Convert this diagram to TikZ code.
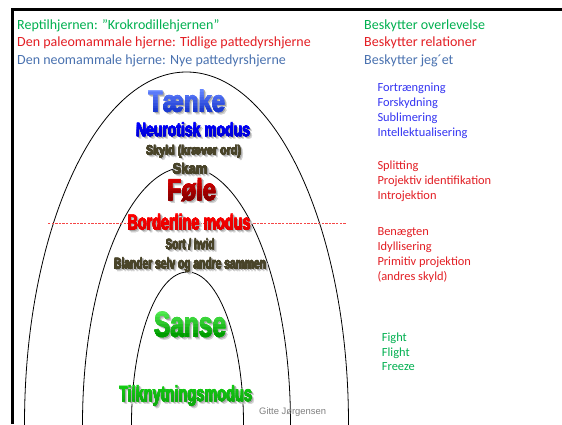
\documentclass[tikz,border=0pt]{standalone}
\usepackage{fontspec}
\usepackage{graphicx}
\setmainfont{Carlito}
\newfontfamily\heavyfont{Liberation Sans}[BoldFeatures={FakeBold=2.2}]
\newfontfamily\signfont{Liberation Sans}

\definecolor{reptgreen}{HTML}{00B050}
\definecolor{paleored}{HTML}{E31E24}
\definecolor{neoblue}{HTML}{4A72B0}
\definecolor{listblue}{HTML}{3434F2}
\definecolor{olive}{HTML}{494429}
\definecolor{thinkTop}{HTML}{6485FF}
\definecolor{thinkBot}{HTML}{1C3AD0}
\definecolor{feelTop}{HTML}{D80000}
\definecolor{feelBot}{HTML}{880000}
\definecolor{senseTop}{HTML}{50EA50}
\definecolor{senseBot}{HTML}{009C00}
\definecolor{attach}{HTML}{12CC12}
\definecolor{dashred}{RGB}{245,70,70}

\tikzset{
  headline/.style={anchor=base west, inner sep=0, font=\fontsize{14}{16}\selectfont},
  listitem/.style={anchor=base west, inner sep=0, font=\fontsize{12.4}{14}\selectfont},
  fancy/.style={anchor=base, inner sep=0},
  archline/.style={line width=0.8pt, draw=black},
  frameline/.style={line width=3pt, draw=black, line join=miter},
  splitdot/.style={fill=dashred, draw=none},
}

% Heavy display word with a grey drop shadow and a vertical colour ramp
% #1 name, #2 x, #3 baseline y, #4 width, #5 cap height, #6 text, #7 top colour, #8 bottom colour
\newcommand{\fancyword}[8]{%
  \node[fancy, text=black!18] at (#2+2.5,#3+2.5) {\resizebox{#4pt}{#5pt}{\heavyfont\bfseries #6}};
  \node[fancy, text=black!36] at (#2+1.3,#3+1.3) {\resizebox{#4pt}{#5pt}{\heavyfont\bfseries #6}};
  \node[fancy, text=#7] (#1) at (#2,#3) {\resizebox{#4pt}{#5pt}{\heavyfont\bfseries #6}};
  \foreach \k in {1,...,7}{%
    \pgfmathtruncatemacro\pct{100*\k/7}%
    \begin{scope}
      \clip (#2-200,#3-#5+\k*#5/8) rectangle (#2+200,#3+20);
      \node[fancy, text=#8!\pct!#7] at (#2,#3) {\resizebox{#4pt}{#5pt}{\heavyfont\bfseries #6}};
    \end{scope}
  }%
}

\begin{document}
\begin{tikzpicture}[x=1pt, y=-1pt]
\useasboundingbox (0,0) rectangle (562,424);
\fill[white] (0,0) rectangle (562,424);

% nested arches: upper halves of ellipses standing on the bottom edge
\begin{scope}
  \clip (0,0) rectangle (562,424);
  \draw[archline] (186.5,424) ellipse [x radius=162, y radius=352];
  \draw[archline] (186.5,424) ellipse [x radius=104, y radius=257];
  \draw[archline] (187.5,424) ellipse [x radius=56, y radius=152];
\end{scope}

% frame
\draw[frameline] (12.5,424) -- (12.5,9.7) -- (562,9.7);

% dotted boundary between thinking and feeling, one small dash at a time
\foreach \i in {0,...,82}{
  \fill[splitdot] (48+\i*3.6,222.9) rectangle ++(2.3,1.2);
}

% headings, left
\node[headline, text=reptgreen] (reptL) at (17,29) {Reptilhjernen: ”Krokrodillehjernen”};
\node[headline, text=paleored] (paleoL) at (17,46.5) {Den paleomammale hjerne: Tidlige pattedyrshjerne};
\node[headline, text=neoblue] (neoL) at (17,64) {Den neomammale hjerne: Nye pattedyrshjerne};

% headings, right
\node[headline, text=reptgreen] (reptR) at (364,29) {Beskytter overlevelse};
\node[headline, text=paleored] (paleoR) at (364,46.5) {Beskytter relationer};
\node[headline, text=neoblue] (neoR) at (364,64) {Beskytter jeg´et};

% defence mechanisms
\node[listitem, text=listblue] (d1) at (377.3,91.7) {Fortrængning};
\node[listitem, text=listblue] (d2) at (377.3,106.7) {Forskydning};
\node[listitem, text=listblue] (d3) at (377.3,121.7) {Sublimering};
\node[listitem, text=listblue] (d4) at (377.3,136.7) {Intellektualisering};

\node[listitem, text=paleored] (d5) at (377.3,169.7) {Splitting};
\node[listitem, text=paleored] (d6) at (377.3,184.4) {Projektiv identifikation};
\node[listitem, text=paleored] (d7) at (377.3,199) {Introjektion};

\node[listitem, text=paleored] (d8) at (377.3,235) {Benægten};
\node[listitem, text=paleored] (d9) at (377.3,250) {Idyllisering};
\node[listitem, text=paleored] (d10) at (377.3,265) {Primitiv projektion};
\node[listitem, text=paleored] (d11) at (377.3,280) {(andres skyld)};

\node[listitem, text=reptgreen] (d12) at (381.7,341.7) {Fight};
\node[listitem, text=reptgreen] (d13) at (381.7,356.7) {Flight};
\node[listitem, text=reptgreen] (d14) at (381.7,370.7) {Freeze};

% display words inside the arches
\fancyword{think}{186.5}{111.5}{77}{22}{Tænke}{thinkTop}{thinkBot}
\fancyword{neurotic}{193}{136}{114}{14}{Neurotisk modus}{blue}{blue!85!black}
\fancyword{guilt}{193.5}{154.5}{95}{10}{Skyld (kræver ord)}{olive}{olive}
\fancyword{shame}{190}{173.5}{35}{11}{Skam}{olive}{olive}
\fancyword{feel}{191.5}{200}{49}{22}{Føle}{feelTop}{feelBot}
\fancyword{borderline}{189}{229.5}{123}{16}{Borderline modus}{red}{red!90!black}
\fancyword{splitting}{190}{249}{49}{11}{Sort / hvid}{olive}{olive}
\fancyword{merge}{190}{268.5}{152}{11.5}{Blander selv og andre sammen}{olive}{olive}
\fancyword{sense}{190}{336.5}{72}{25}{Sanse}{senseTop}{senseBot}
\fancyword{attachment}{185.5}{401}{133}{16}{Tilknytningsmodus}{attach}{attach!85!black}

\node[anchor=base west, inner sep=0, text=black!50, font=\signfont\fontsize{9.4}{11}\selectfont] (author) at (259,414) {Gitte Jørgensen};
\end{tikzpicture}
\end{document}
